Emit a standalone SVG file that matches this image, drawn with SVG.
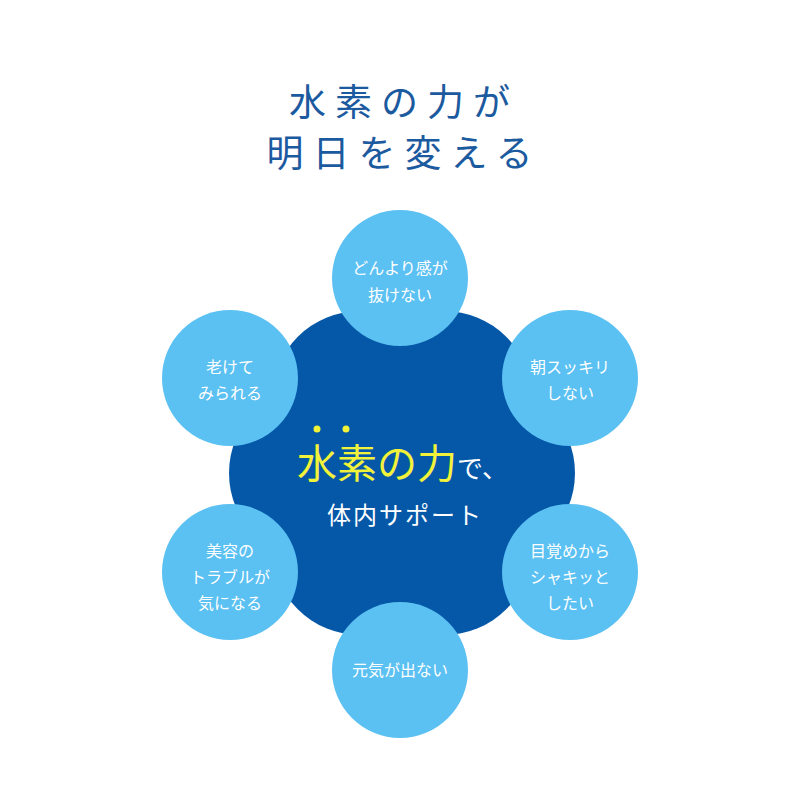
<svg xmlns="http://www.w3.org/2000/svg" width="800" height="800" viewBox="0 0 800 800">
<style>
.t{font-family:"Noto Sans CJK JP",sans-serif;fill:#1c5aa0;font-size:37px;letter-spacing:9px;text-anchor:middle}
.c{fill:#5bc0f2}
.n{font-family:"Noto Sans CJK JP",sans-serif;fill:#fff;font-size:16px;text-anchor:middle}
</style>
<rect width="800" height="800" fill="#fff"/>
<text class="t" x="404" y="116">水素の力が</text>
<text class="t" x="404" y="167">明日を変える</text>
<g id="center" fill="#0558a8">
<circle cx="402" cy="473" r="135"/>
<circle cx="487" cy="473" r="88"/>
<circle cx="317" cy="473" r="88"/>
<circle cx="444" cy="399" r="88"/>
<circle cx="360" cy="399" r="88"/>
<circle cx="444" cy="547" r="88"/>
<circle cx="360" cy="547" r="88"/>
<circle cx="317" cy="429" r="3.5" fill="#f2f23a"/>
<circle cx="346" cy="429" r="3.5" fill="#f2f23a"/>
<text x="297" y="478" font-family="Noto Sans CJK JP,sans-serif" font-size="40" fill="#f2f23a">水素の力<tspan font-size="26" fill="#fff">で、</tspan></text>
<text x="405" y="524" font-family="Noto Sans CJK JP,sans-serif" font-size="24" fill="#fff" text-anchor="middle" letter-spacing="2">体内サポート</text>
</g>
<g id="n1"><circle class="c" cx="400" cy="278" r="68"/><text class="n" x="400" y="274">どんより感が</text><text class="n" x="400" y="301">抜けない</text></g>
<g id="n2"><circle class="c" cx="570" cy="378" r="68"/><text class="n" x="570" y="373">朝スッキリ</text><text class="n" x="570" y="399">しない</text></g>
<g id="n3"><circle class="c" cx="570" cy="572" r="68"/><text class="n" x="570" y="557">目覚めから</text><text class="n" x="570" y="583">シャキッと</text><text class="n" x="570" y="609">したい</text></g>
<g id="n4"><circle class="c" cx="400" cy="670" r="68"/><text class="n" x="400" y="676">元気が出ない</text></g>
<g id="n5"><circle class="c" cx="230" cy="572" r="68"/><text class="n" x="230" y="557">美容の</text><text class="n" x="230" y="583">トラブルが</text><text class="n" x="230" y="609">気になる</text></g>
<g id="n6"><circle class="c" cx="230" cy="378" r="68"/><text class="n" x="230" y="373">老けて</text><text class="n" x="230" y="399">みられる</text></g>
<g id="connectors"/>
</svg>
